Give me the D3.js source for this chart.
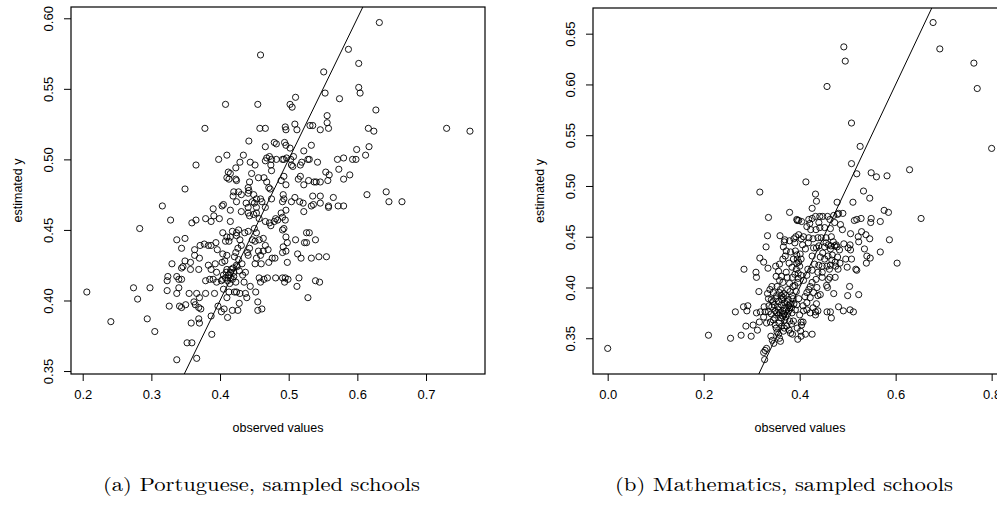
<!DOCTYPE html>
<html><head><meta charset="utf-8">
<script src="https://cdnjs.cloudflare.com/ajax/libs/d3/7.8.5/d3.min.js"></script>
<style>body{margin:0;background:#fff}svg{display:block}</style>
</head><body><svg id="c" width="997" height="510"></svg>
<script>
// Panel (a): Portuguese — [observed, estimated]
const portuguesePoints = [
[0.632,0.597],[0.459,0.574],[0.587,0.578],[0.602,0.568],[0.551,0.562],[0.602,0.551],[0.604,0.547],[0.553,0.547],[0.574,0.543],[0.510,0.544],
[0.502,0.539],[0.505,0.537],[0.408,0.539],[0.455,0.539],[0.627,0.535],[0.556,0.531],[0.556,0.526],[0.558,0.522],[0.546,0.521],[0.531,0.524],
[0.535,0.524],[0.509,0.525],[0.512,0.521],[0.495,0.523],[0.496,0.521],[0.458,0.522],[0.466,0.522],[0.378,0.522],[0.616,0.522],[0.624,0.520],
[0.730,0.522],[0.764,0.520],[0.442,0.513],[0.479,0.512],[0.482,0.511],[0.494,0.512],[0.496,0.510],[0.533,0.510],[0.617,0.509],[0.466,0.509],
[0.522,0.506],[0.599,0.507],[0.502,0.508],[0.410,0.503],[0.398,0.500],[0.434,0.503],[0.365,0.496],[0.598,0.500],[0.612,0.503],[0.593,0.500],
[0.580,0.501],[0.571,0.500],[0.573,0.493],[0.589,0.489],[0.580,0.486],[0.554,0.491],[0.559,0.489],[0.557,0.485],[0.546,0.484],[0.542,0.498],
[0.528,0.500],[0.530,0.500],[0.517,0.496],[0.519,0.498],[0.507,0.502],[0.503,0.500],[0.504,0.496],[0.506,0.495],[0.491,0.500],[0.493,0.500],
[0.497,0.501],[0.482,0.500],[0.472,0.502],[0.468,0.501],[0.475,0.500],[0.474,0.496],[0.475,0.492],[0.466,0.499],[0.444,0.498],[0.451,0.496],
[0.429,0.498],[0.423,0.494],[0.412,0.491],[0.415,0.490],[0.410,0.487],[0.413,0.486],[0.423,0.486],[0.424,0.485],[0.446,0.490],[0.456,0.487],
[0.464,0.487],[0.468,0.484],[0.471,0.480],[0.473,0.479],[0.489,0.485],[0.493,0.488],[0.496,0.482],[0.514,0.486],[0.522,0.482],[0.529,0.485],
[0.537,0.484],[0.540,0.484],[0.517,0.488],[0.443,0.484],[0.442,0.478],[0.441,0.480],[0.420,0.477],[0.427,0.477],[0.419,0.474],[0.431,0.475],
[0.424,0.470],[0.441,0.476],[0.449,0.475],[0.453,0.472],[0.459,0.472],[0.461,0.470],[0.447,0.470],[0.450,0.469],[0.438,0.469],[0.441,0.466],
[0.453,0.466],[0.466,0.466],[0.475,0.472],[0.492,0.475],[0.493,0.472],[0.509,0.473],[0.504,0.470],[0.491,0.470],[0.516,0.470],[0.521,0.469],
[0.535,0.474],[0.546,0.474],[0.536,0.468],[0.533,0.467],[0.546,0.469],[0.558,0.467],[0.565,0.473],[0.572,0.467],[0.580,0.467],[0.614,0.475],
[0.642,0.477],[0.646,0.470],[0.665,0.470],[0.558,0.466],[0.522,0.463],[0.496,0.464],[0.489,0.462],[0.491,0.459],[0.495,0.457],[0.481,0.458],
[0.484,0.457],[0.479,0.456],[0.474,0.453],[0.472,0.455],[0.466,0.456],[0.457,0.458],[0.453,0.462],[0.449,0.461],[0.443,0.460],[0.441,0.462],
[0.431,0.463],[0.415,0.464],[0.403,0.467],[0.405,0.468],[0.390,0.465],[0.391,0.460],[0.387,0.456],[0.379,0.458],[0.399,0.458],[0.415,0.456],
[0.359,0.455],[0.365,0.457],[0.316,0.467],[0.328,0.457],[0.283,0.451],[0.349,0.479],[0.493,0.451],[0.491,0.450],[0.450,0.451],[0.453,0.448],
[0.441,0.449],[0.436,0.448],[0.427,0.450],[0.424,0.448],[0.418,0.449],[0.404,0.448],[0.415,0.445],[0.410,0.445],[0.408,0.442],[0.413,0.442],
[0.424,0.446],[0.429,0.443],[0.447,0.443],[0.451,0.442],[0.457,0.443],[0.463,0.444],[0.496,0.445],[0.510,0.443],[0.526,0.448],[0.530,0.448],
[0.523,0.441],[0.526,0.441],[0.539,0.443],[0.498,0.441],[0.492,0.438],[0.496,0.435],[0.491,0.434],[0.498,0.427],[0.513,0.433],[0.518,0.430],
[0.533,0.430],[0.544,0.431],[0.555,0.431],[0.480,0.430],[0.476,0.430],[0.471,0.427],[0.466,0.439],[0.470,0.436],[0.463,0.435],[0.456,0.435],
[0.459,0.432],[0.453,0.430],[0.451,0.426],[0.460,0.426],[0.443,0.437],[0.440,0.434],[0.441,0.432],[0.431,0.439],[0.426,0.437],[0.423,0.434],
[0.421,0.431],[0.427,0.429],[0.432,0.426],[0.424,0.425],[0.419,0.423],[0.415,0.420],[0.410,0.422],[0.407,0.428],[0.410,0.432],[0.404,0.433],
[0.396,0.436],[0.394,0.441],[0.387,0.439],[0.383,0.439],[0.377,0.440],[0.371,0.439],[0.363,0.436],[0.370,0.430],[0.363,0.432],[0.349,0.428],
[0.357,0.427],[0.346,0.424],[0.344,0.423],[0.337,0.417],[0.344,0.415],[0.340,0.415],[0.330,0.426],[0.324,0.417],[0.323,0.414],[0.344,0.437],
[0.337,0.443],[0.349,0.444],[0.340,0.409],[0.357,0.422],[0.369,0.422],[0.383,0.425],[0.387,0.422],[0.379,0.414],[0.385,0.415],[0.390,0.415],
[0.395,0.413],[0.395,0.420],[0.393,0.426],[0.403,0.427],[0.404,0.415],[0.411,0.414],[0.415,0.416],[0.420,0.417],[0.423,0.413],[0.435,0.413],
[0.444,0.410],[0.457,0.416],[0.459,0.413],[0.464,0.415],[0.469,0.416],[0.481,0.416],[0.491,0.416],[0.495,0.416],[0.494,0.413],[0.499,0.415],
[0.515,0.416],[0.512,0.410],[0.539,0.414],[0.545,0.413],[0.528,0.402],[0.452,0.406],[0.455,0.399],[0.455,0.393],[0.461,0.394],[0.405,0.408],
[0.413,0.406],[0.410,0.402],[0.421,0.406],[0.424,0.406],[0.429,0.405],[0.437,0.405],[0.439,0.402],[0.428,0.398],[0.426,0.393],[0.418,0.393],
[0.411,0.388],[0.406,0.394],[0.402,0.392],[0.397,0.396],[0.387,0.389],[0.388,0.376],[0.392,0.405],[0.379,0.405],[0.366,0.405],[0.370,0.402],
[0.362,0.399],[0.364,0.397],[0.369,0.395],[0.372,0.394],[0.369,0.387],[0.370,0.384],[0.358,0.384],[0.355,0.405],[0.350,0.397],[0.337,0.405],
[0.326,0.396],[0.341,0.396],[0.344,0.395],[0.323,0.407],[0.274,0.409],[0.298,0.409],[0.280,0.401],[0.206,0.406],[0.294,0.387],[0.241,0.385],
[0.305,0.378],[0.352,0.370],[0.359,0.370],[0.337,0.358],[0.366,0.359],[0.405,0.418],[0.408,0.416],[0.412,0.418],[0.418,0.415],[0.414,0.412],
[0.402,0.414],[0.409,0.420],[0.416,0.422],[0.420,0.420],[0.425,0.424],[0.428,0.421],[0.433,0.418],[0.437,0.420]
];

// Panel (b): Mathematics — [observed, estimated]
const mathematicsPoints = [
[0.000,0.340],[0.210,0.353],[0.256,0.350],[0.278,0.353],[0.299,0.352],[0.266,0.376],[0.284,0.418],[0.283,0.381],[0.292,0.382],[0.290,0.377],
[0.288,0.362],[0.303,0.363],[0.312,0.358],[0.317,0.494],[0.309,0.415],[0.310,0.410],[0.315,0.396],[0.317,0.429],[0.325,0.425],[0.330,0.440],
[0.333,0.451],[0.335,0.469],[0.334,0.419],[0.310,0.375],[0.326,0.381],[0.328,0.376],[0.316,0.366],[0.325,0.336],[0.328,0.338],[0.327,0.329],
[0.331,0.340],[0.492,0.637],[0.495,0.623],[0.457,0.598],[0.678,0.661],[0.692,0.635],[0.763,0.621],[0.770,0.596],[0.800,0.537],[0.508,0.562],
[0.526,0.539],[0.508,0.522],[0.519,0.512],[0.549,0.513],[0.560,0.509],[0.582,0.510],[0.629,0.516],[0.653,0.468],[0.603,0.424],[0.587,0.447],
[0.568,0.435],[0.576,0.476],[0.585,0.474],[0.568,0.465],[0.549,0.468],[0.548,0.464],[0.546,0.448],[0.538,0.452],[0.529,0.455],[0.522,0.450],
[0.523,0.445],[0.528,0.468],[0.519,0.467],[0.514,0.466],[0.511,0.484],[0.533,0.495],[0.546,0.488],[0.535,0.438],[0.540,0.431],[0.547,0.429],
[0.539,0.424],[0.523,0.393],[0.506,0.453],[0.505,0.442],[0.506,0.437],[0.496,0.428],[0.508,0.428],[0.499,0.420],[0.517,0.418],[0.519,0.417],
[0.504,0.401],[0.500,0.392],[0.505,0.378],[0.512,0.376],[0.491,0.377],[0.481,0.381],[0.490,0.473],[0.481,0.473],[0.478,0.484],[0.485,0.462],
[0.489,0.457],[0.492,0.443],[0.501,0.439],[0.478,0.440],[0.473,0.441],[0.479,0.430],[0.484,0.424],[0.475,0.421],[0.480,0.418],[0.474,0.410],
[0.471,0.394],[0.463,0.410],[0.460,0.408],[0.456,0.402],[0.458,0.400],[0.447,0.410],[0.443,0.393],[0.438,0.392],[0.435,0.384],[0.438,0.377],
[0.433,0.376],[0.433,0.373],[0.457,0.376],[0.464,0.376],[0.466,0.370],[0.426,0.354],[0.412,0.354],[0.403,0.352],[0.396,0.349],[0.385,0.354],
[0.381,0.355],[0.402,0.357],[0.403,0.366],[0.404,0.363],[0.407,0.366],[0.400,0.373],[0.360,0.347],[0.358,0.350],[0.356,0.354],[0.366,0.357],
[0.368,0.360],[0.369,0.368],[0.373,0.362],[0.351,0.360],[0.340,0.352],[0.346,0.345],[0.343,0.348],[0.413,0.504],[0.433,0.492],[0.435,0.485],
[0.426,0.478],[0.379,0.474],[0.394,0.467],[0.398,0.466],[0.404,0.465],[0.419,0.467],[0.426,0.468],[0.433,0.470],[0.442,0.470],[0.448,0.470],
[0.458,0.470],[0.463,0.467],[0.440,0.464],[0.421,0.463],[0.415,0.460],[0.423,0.457],[0.434,0.457],[0.442,0.459],[0.452,0.459],[0.464,0.458],
[0.466,0.450],[0.455,0.449],[0.445,0.449],[0.438,0.449],[0.428,0.448],[0.419,0.449],[0.408,0.450],[0.403,0.448],[0.392,0.450],[0.388,0.448],
[0.390,0.444],[0.369,0.447],[0.368,0.445],[0.359,0.451],[0.381,0.435],[0.370,0.431],[0.365,0.428],[0.358,0.423],[0.350,0.421],[0.356,0.416],
[0.351,0.411],[0.362,0.411],[0.374,0.410],[0.378,0.424],[0.387,0.428],[0.394,0.432],[0.401,0.433],[0.403,0.428],[0.394,0.424],[0.400,0.421],
[0.393,0.418],[0.397,0.414],[0.403,0.412],[0.397,0.409],[0.408,0.407],[0.415,0.412],[0.417,0.418],[0.426,0.417],[0.431,0.423],[0.426,0.431],
[0.429,0.439],[0.435,0.439],[0.440,0.441],[0.443,0.430],[0.448,0.434],[0.452,0.440],[0.455,0.444],[0.460,0.442],[0.464,0.438],[0.467,0.427],
[0.464,0.422],[0.457,0.421],[0.447,0.421],[0.440,0.422],[0.438,0.415],[0.447,0.415],[0.434,0.408],[0.426,0.405],[0.422,0.401],[0.419,0.398],
[0.415,0.395],[0.411,0.391],[0.422,0.390],[0.429,0.395],[0.436,0.400],[0.415,0.385],[0.407,0.382],[0.398,0.389],[0.393,0.396],[0.386,0.401],
[0.379,0.404],[0.375,0.398],[0.367,0.394],[0.360,0.398],[0.353,0.401],[0.342,0.401],[0.338,0.398],[0.333,0.394],[0.335,0.389],[0.344,0.386],
[0.350,0.389],[0.356,0.386],[0.363,0.388],[0.369,0.385],[0.376,0.388],[0.381,0.384],[0.386,0.389],[0.379,0.380],[0.372,0.378],[0.365,0.377],
[0.356,0.378],[0.349,0.377],[0.342,0.381],[0.341,0.374],[0.348,0.370],[0.356,0.373],[0.361,0.370],[0.367,0.374],[0.375,0.374],[0.384,0.375],
[0.391,0.378],[0.394,0.383],[0.408,0.377],[0.415,0.378],[0.422,0.375],[0.428,0.380],[0.387,0.367],[0.379,0.367],[0.383,0.364],[0.349,0.363],
[0.339,0.366],[0.331,0.365],[0.325,0.371],[0.318,0.376],[0.335,0.376],[0.379,0.446],[0.366,0.440],[0.372,0.436],[0.395,0.466],[0.398,0.452],
[0.406,0.442],[0.412,0.438],[0.418,0.444],[0.465,0.441],[0.470,0.445],[0.476,0.442],[0.483,0.437],[0.468,0.432],[0.474,0.425],[0.459,0.431],
[0.452,0.428],[0.462,0.418],[0.473,0.464],[0.471,0.471],[0.479,0.472],
[0.352,0.392],[0.358,0.395],[0.362,0.392],[0.366,0.390],[0.371,0.392],[0.374,0.386],[0.377,0.382],[0.369,0.380],[0.362,0.383],[0.355,0.381],
[0.347,0.383],[0.352,0.375],[0.359,0.375],[0.364,0.372],[0.371,0.371],[0.377,0.377],[0.383,0.380],[0.388,0.384],[0.385,0.392],[0.380,0.396],
[0.390,0.402],[0.396,0.405],[0.385,0.410],[0.390,0.413],[0.395,0.428],[0.398,0.425],[0.391,0.436],[0.384,0.420],[0.372,0.415],[0.365,0.405],
[0.358,0.407],[0.345,0.395],[0.341,0.388],[0.336,0.382],[0.363,0.362],[0.357,0.365],[0.345,0.368],[0.353,0.356],[0.378,0.358],[0.395,0.360]
];

const portXTicks = [0.2, 0.3, 0.4, 0.5, 0.6, 0.7];
const portYTicks = [0.35, 0.40, 0.45, 0.50, 0.55, 0.60];
const mathXTicks = [0.0, 0.2, 0.4, 0.6, 0.8];
const mathYTicks = [0.35, 0.40, 0.45, 0.50, 0.55, 0.60, 0.65];
const xTitle = "observed values";
const yTitle = "estimated y";
const captions = ["(a) Portuguese, sampled schools", "(b) Mathematics, sampled schools"];

const svg = d3.select("#c");
const FONT = "'Liberation Sans', Arial, Helvetica, sans-serif";

function panel(cfg) {
  const {left, right, top, bottom, xDom, yDom, xTicks, yTicks, xFmt, yFmt, points, id, yTitleX, caption, capX, capW} = cfg;
  const x = d3.scaleLinear().domain(xDom).range([left, right]);
  const y = d3.scaleLinear().domain(yDom).range([bottom, top]);
  const g = svg.append("g");
  const clipId = "clip" + id;
  svg.append("clipPath").attr("id", clipId).append("rect")
    .attr("x", left).attr("y", top).attr("width", right - left).attr("height", bottom - top);

  g.append("g").selectAll("circle").data(points).join("circle")
    .attr("cx", d => x(d[0])).attr("cy", d => y(d[1])).attr("r", 3.1)
    .attr("fill", "none").attr("stroke", "#000").attr("stroke-width", 0.9);

  const lo = Math.min(xDom[0], yDom[0]), hi = Math.max(xDom[1], yDom[1]);
  g.append("line").attr("clip-path", `url(#${clipId})`)
    .attr("x1", x(lo)).attr("y1", y(lo)).attr("x2", x(hi)).attr("y2", y(hi))
    .attr("stroke", "#000").attr("stroke-width", 1);

  g.append("rect").attr("x", left).attr("y", top).attr("width", right - left).attr("height", bottom - top)
    .attr("fill", "none").attr("stroke", "#000").attr("stroke-width", 1.2);

  const xa = g.append("g").attr("transform", `translate(0,${bottom})`)
    .call(d3.axisBottom(x).tickValues(xTicks).tickFormat(d3.format(xFmt)).tickSize(7).tickPadding(9));
  xa.select(".domain").remove();
  xa.selectAll("line").attr("stroke", "#000").attr("stroke-width", 1);
  xa.selectAll("text").attr("font-family", FONT).attr("font-size", 13).attr("fill", "#000");

  const ya = g.append("g").attr("transform", `translate(${left},0)`)
    .call(d3.axisLeft(y).tickValues(yTicks).tickFormat(d3.format(yFmt)).tickSize(7));
  ya.select(".domain").remove();
  ya.selectAll("line").attr("stroke", "#000").attr("stroke-width", 1);
  ya.selectAll("text").attr("font-family", FONT).attr("font-size", 13).attr("fill", "#000")
    .attr("text-anchor", "middle").attr("transform", "rotate(-90)")
    .attr("x", 0).attr("y", -18).attr("dy", 0);

  g.append("text").attr("x", (left + right) / 2).attr("y", 432)
    .attr("text-anchor", "middle").attr("font-family", FONT).attr("font-size", 12.5).text(xTitle);
  g.append("text").attr("transform", `translate(${yTitleX},${(top + bottom) / 2}) rotate(-90)`)
    .attr("text-anchor", "middle").attr("font-family", FONT).attr("font-size", 12.5).text(yTitle);

  g.append("text").attr("x", capX).attr("y", 491)
    .attr("font-family", "'Latin Modern Roman','CMU Serif','Liberation Serif','DejaVu Serif',serif")
    .attr("font-size", 19).attr("textLength", capW).attr("lengthAdjust", "spacingAndGlyphs")
    .text(caption);
}

panel({
  id: "a", left: 71, right: 485, top: 7, bottom: 374,
  xDom: [0.18296, 0.7859], yDom: [0.3479, 0.6080],
  xTicks: portXTicks, yTicks: portYTicks, xFmt: ".1f", yFmt: ".2f",
  points: portuguesePoints, yTitleX: 22, caption: captions[0], capX: 103, capW: 317
});
panel({
  id: "b", left: 593, right: 1007, top: 8, bottom: 374,
  xDom: [-0.0306, 0.832], yDom: [0.3148, 0.6753],
  xTicks: mathXTicks, yTicks: mathYTicks, xFmt: ".1f", yFmt: ".2f",
  points: mathematicsPoints, yTitleX: 544, caption: captions[1], capX: 615, capW: 338
});
</script></body></html>
